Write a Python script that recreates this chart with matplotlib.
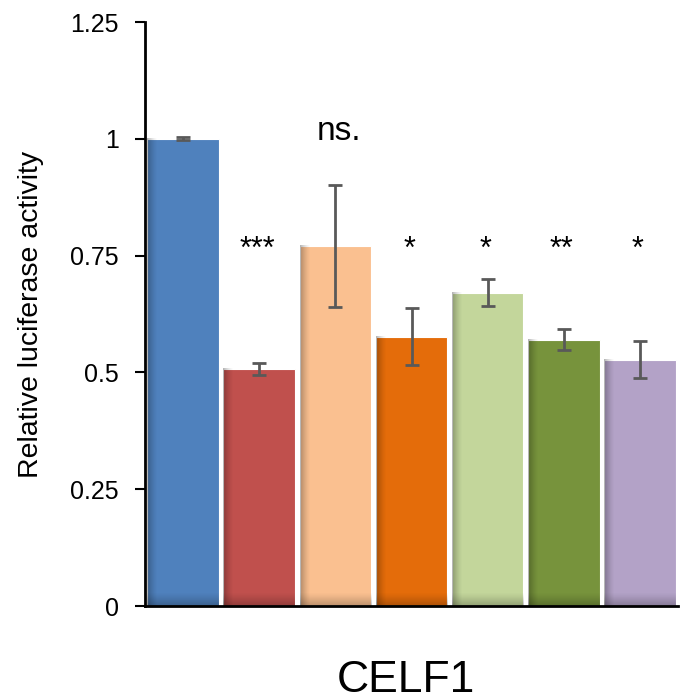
import numpy as np
import matplotlib
matplotlib.use("Agg")
import matplotlib.pyplot as plt

plt.rcParams['font.family'] = ['Liberation Sans', 'DejaVu Sans']

# valores
groups = ['1', '2', '3', '4', '5', '6', '7']
values = [1.0, 0.508, 0.771, 0.576, 0.671, 0.570, 0.527]
errors = [0.003, 0.013, 0.131, 0.061, 0.028, 0.022, 0.040]
colors = ['#4F81BD', '#C0504D', '#FAC090', '#E46C0A', '#C3D69B', '#77933C', '#B3A2C7']
signif = ['', '***', 'ns.', '*', '*', '**', '*']
yticks = [0, 0.25, 0.5, 0.75, 1, 1.25]
ytick_labels = ['0', '0.25', '0.5', '0.75', '1', '1.25']


def add_shadow(ax, bar):
    # sombra interior estilo Excel: borde izquierdo e inferior mas oscuros
    x0, w, h = bar.get_x(), bar.get_width(), bar.get_height()
    n = 64
    left = np.zeros((1, n, 4))
    left[0, :, 3] = np.linspace(0.45, 0.0, n) ** 1.5
    ax.imshow(left, extent=[x0, x0 + 0.14, 0, h], aspect='auto',
              interpolation='bilinear', zorder=2.5)
    bottom = np.zeros((n, 1, 4))
    bottom[:, 0, 3] = np.linspace(0.0, 0.35, n) ** 1.3
    ax.imshow(bottom, extent=[x0, x0 + w, 0, 0.028], aspect='auto',
              interpolation='bilinear', zorder=2.5)


fig = plt.figure(figsize=(6.86, 7.0), dpi=100)
ax = fig.add_axes([145 / 686, 94 / 700, 533 / 686, 584 / 700])

x = np.arange(len(groups))
bars = ax.bar(x, values, width=0.94, color=colors, edgecolor='white',
              linewidth=0.8, zorder=2)
for b in bars:
    add_shadow(ax, b)

ax.errorbar(x, values, yerr=errors, fmt='none', ecolor='#595959',
            elinewidth=2, capsize=5, capthick=2, zorder=3)

for xi, s in zip(x, signif):
    if not s:
        continue
    if s == 'ns.':
        ax.text(xi + 0.05, 0.997, s, ha='center', va='baseline', fontsize=24)
    else:
        ax.text(xi - 0.03, 0.745, s, ha='center', va='baseline', fontsize=22)

ax.set_xlim(-0.5, len(groups) - 0.5)
ax.set_ylim(0, 1.25)
ax.set_yticks(yticks)
ax.set_yticklabels(ytick_labels)
ax.set_xticks([])
ax.tick_params(axis='y', direction='out', length=7, width=1.5, pad=12, labelsize=18)

for side in ['top', 'right']:
    ax.spines[side].set_visible(False)
for side in ['left', 'bottom']:
    ax.spines[side].set_linewidth(2)
    ax.spines[side].set_color('black')

ax.set_ylabel('Relative luciferase activity', fontsize=20.5)
ax.yaxis.set_label_coords(-0.19, 0.5)
ax.set_xlabel('CELF1', fontsize=32)
ax.xaxis.label.set_va('baseline')
ax.xaxis.set_label_coords(0.49, -0.147)

fig.savefig('out.png', dpi=100)
